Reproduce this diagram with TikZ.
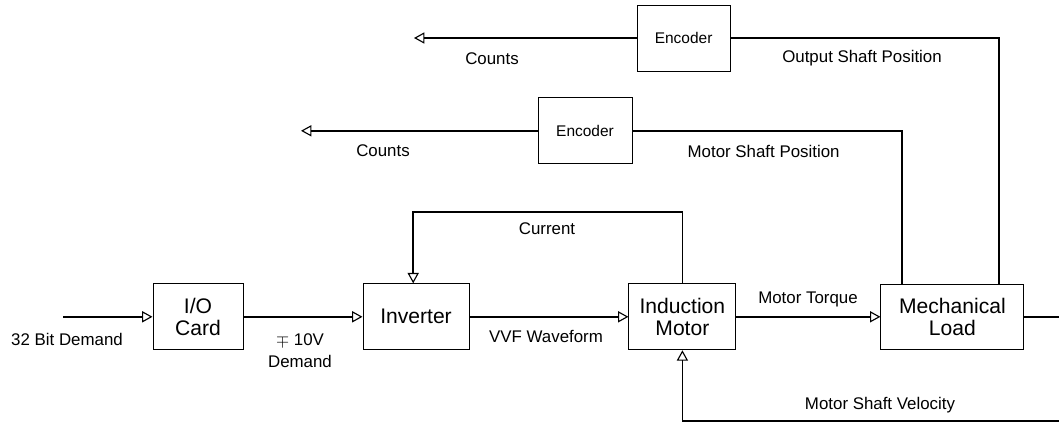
\documentclass[tikz,border=0pt]{standalone}
\usepackage{fontspec}
\setmainfont{Liberation Sans}
\usetikzlibrary{arrows.meta,positioning,calc}

\begin{document}
\begin{tikzpicture}[
    block/.style={rectangle, draw, line width=0.7pt, minimum width=2.65cm, minimum height=1.65cm, align=center, font=\fontsize{15}{16}\selectfont},
    encbox/.style={rectangle, draw, line width=0.7pt, minimum width=2.35cm, minimum height=1.65cm, font=\fontsize{11}{13}\selectfont},
    wire/.style={line width=1.2pt},
    sig/.style={wire, -{Triangle[open, length=0.26cm, width=0.28cm, line width=0.8pt]}},
    lbl/.style={font=\fontsize{12}{15.5}\selectfont, align=center}
]
    % Frame
    \useasboundingbox (0,0) rectangle (26.475,10.7);

    % Blocks
    \node[block, minimum width=2.25cm] (io) at (4.95, 2.78) {I/O\\Card};
    \node[block] (inv) at (10.4, 2.78) {Inverter};
    \node[block, minimum width=2.675cm] (mot) at (17.06, 2.78) {Induction\\Motor};
    \node[block, minimum width=3.575cm, minimum height=1.625cm] (load) at (23.81, 2.78) {Mechanical\\Load};
    \node[encbox, minimum width=2.325cm] (enc1) at (17.09, 9.75) {Encoder};
    \node[encbox] (enc2) at (14.625, 7.43) {Encoder};

    % Helper points
    \coordinate (dem) at (1.575, 2.78);
    \coordinate (cur) at (10.33, 5.4);
    \coordinate (cnt1) at (10.35, 9.75);
    \coordinate (cnt2) at (7.525, 7.43);
    \coordinate (osp) at (24.975, 9.75);
    \coordinate (msp) at (22.55, 7.43);
    \coordinate (vel) at (26.6, 0.175);

    % Forward path
    \draw[sig] (dem) -- (io);
    \draw[sig] (io) -- (inv);
    \draw[sig] (inv) -- (mot);
    \draw[sig] (mot) -- (load);

    % Feedback paths
    \draw[sig] (mot.north) |- (cur) -- (cur |- inv.north);
    \draw[sig] (load.east) -| (vel) -| (mot.south);
    \draw[wire] (load.north -| osp) -- (osp) -- (enc1.east);
    \draw[sig] (enc1.west) -- (cnt1);
    \draw[wire] (load.north -| msp) -- (msp) -- (enc2.east);
    \draw[sig] (enc2.west) -- (cnt2);

    % Labels
    \node[lbl] (l1) at (1.675, 2.225) {32 Bit Demand};
    \node[lbl] (l2) at (7.5, 1.925) {$\mp$ 10V\\Demand};
    \node[lbl] (l3) at (13.675, 4.975) {Current};
    \node[lbl] (l4) at (13.65, 2.3) {VVF Waveform};
    \node[lbl] (l5) at (20.2, 3.225) {Motor Torque};
    \node[lbl] (l6) at (22.0, 0.575) {Motor Shaft Velocity};
    \node[lbl] (l7) at (12.3, 9.225) {Counts};
    \node[lbl] (l8) at (9.575, 6.925) {Counts};
    \node[lbl] (l9) at (21.55, 9.25) {Output Shaft Position};
    \node[lbl] (l10) at (19.09, 6.925) {Motor Shaft Position};
\end{tikzpicture}
\end{document}
